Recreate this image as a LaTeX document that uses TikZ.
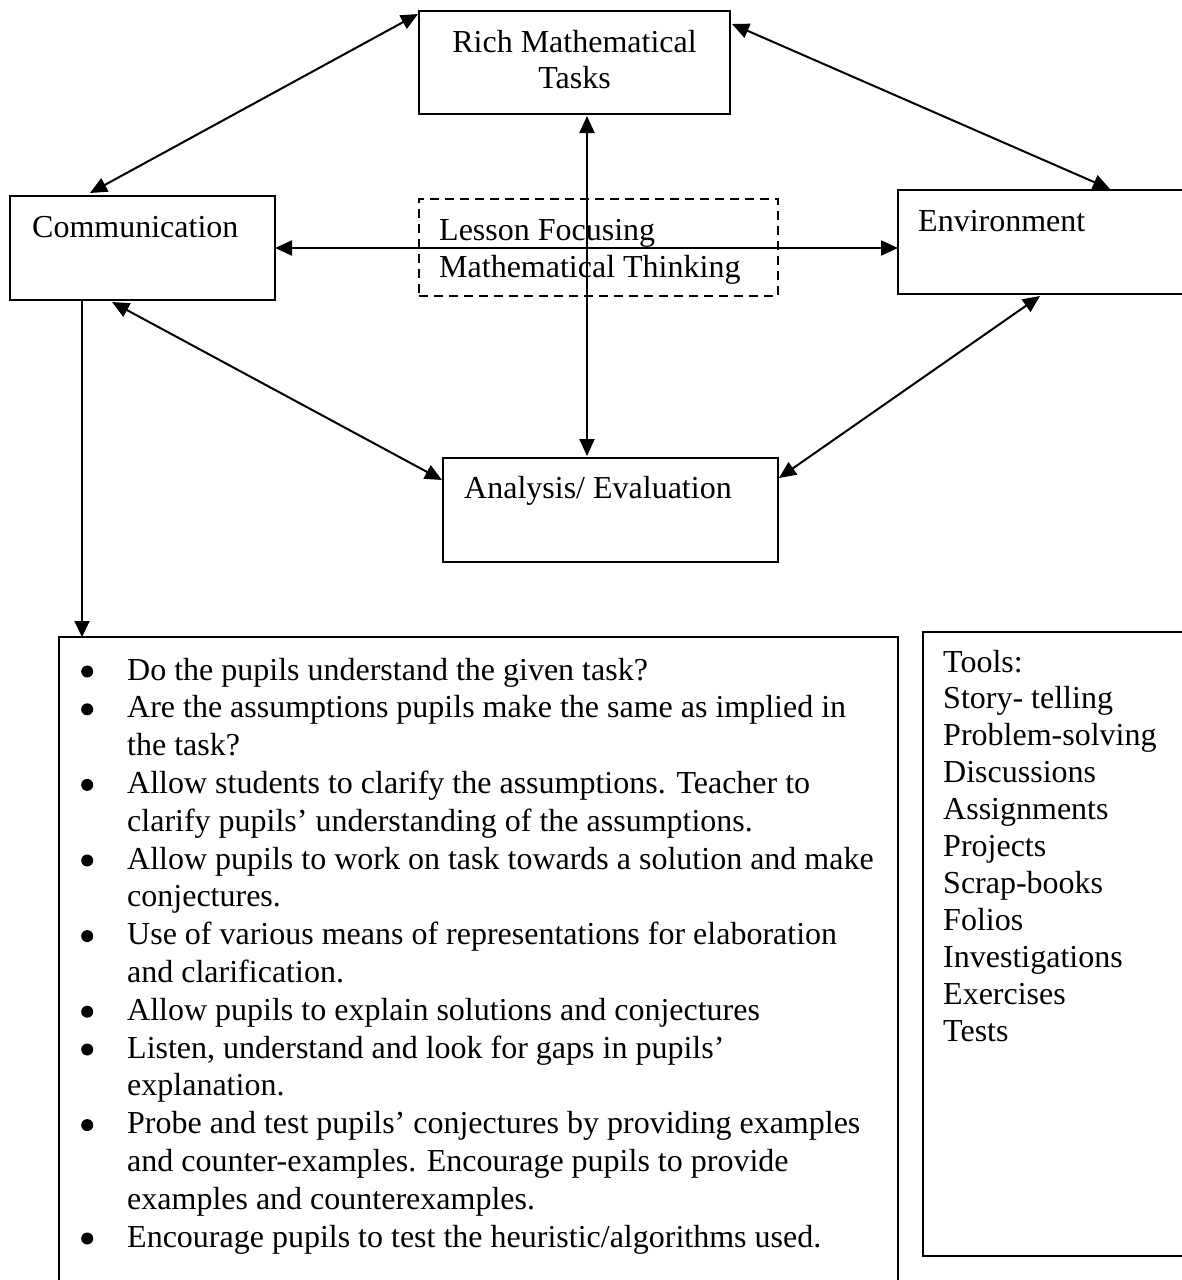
\documentclass[tikz,border=0pt]{standalone}
\usepackage{fontspec}
\setmainfont{Liberation Serif}
\usetikzlibrary{arrows.meta,calc}
\newcommand\bulletdot{\tikz[baseline=0pt]{\fill (0pt,8.5pt) circle[radius=6pt];}}
\begin{document}
\begin{tikzpicture}[x=1pt,y=-1pt,
  box/.style={draw,line width=2pt,rectangle,inner sep=0pt,outer sep=0pt,anchor=north west},
  thickbox/.style={box,line width=2.6pt},
  dbox/.style={draw,line width=1.8pt,dash pattern=on 9pt off 6pt,rectangle,inner sep=0pt,outer sep=0pt,anchor=north west},
  lbl/.style={anchor=base west,inner sep=0pt,font=\fontsize{32}{37}\selectfont},
  conn/.style={line width=2pt,{Triangle[length=17pt,width=15pt]}-{Triangle[length=17pt,width=15pt]}},
  oneway/.style={line width=2pt,-{Triangle[length=16pt,width=15pt]}},
]
\useasboundingbox (0,0) rectangle (1182,1280);
\clip (0,0) rectangle (1182,1280);
\fill[white] (0,0) rectangle (1182,1280);

% boxes
\node[box,minimum width=311pt,minimum height=103pt] (rich) at (419,11) {};
\node[box,minimum width=265pt,minimum height=104pt] (comm) at (10,196) {};
\node[dbox,minimum width=359pt,minimum height=97pt] (focus) at (419,199) {};
\node[box,minimum width=300pt,minimum height=104pt] (env) at (898,190) {};
\node[box,minimum width=335pt,minimum height=104pt] (ana) at (443,458) {};
\node[thickbox,minimum width=839pt,minimum height=700pt] (list) at (59,637) {};
\node[thickbox,minimum width=300pt,minimum height=624pt] (tools) at (923,632) {};

% texts (multi-line nodes: base = last line's baseline)
\node[lbl,anchor=base,align=center,font=\fontsize{32}{36}\selectfont] (richtxt) at (574.5,88) {Rich Mathematical\\Tasks};
\node[lbl] (commtxt) at (32,237) {Communication};
\node[lbl,align=left] (focustxt) at (439,277) {Lesson Focusing\\Mathematical Thinking};
\node[lbl] (envtxt) at (918,231) {Environment};
\node[lbl] (anatxt) at (464,498) {Analysis/ Evaluation};
\node[lbl,align=left,font=\fontsize{32}{36.9}\selectfont] (toolstxt) at (943,1041)
  {Tools:\\Story- telling\\Problem-solving\\Discussions\\Assignments\\Projects\\Scrap-books\\Folios\\Investigations\\Exercises\\Tests};
\node[lbl] (listtxt) at (67,680) {\fontsize{32}{37.8}\selectfont
  \begin{tabular}[t]{@{}l@{\hspace{20pt}}l@{}}
  \makebox[40pt]{\bulletdot} & Do the pupils understand the given task?\\
  \makebox[40pt]{\bulletdot} & Are the assumptions pupils make the same as implied in\\
   & the task?\\
  \makebox[40pt]{\bulletdot} & Allow students to clarify the assumptions. Teacher to\\
   & clarify pupils’ understanding of the assumptions.\\
  \makebox[40pt]{\bulletdot} & Allow pupils to work on task towards a solution and make\\
   & conjectures.\\
  \makebox[40pt]{\bulletdot} & Use of various means of representations for elaboration\\
   & and clarification.\\
  \makebox[40pt]{\bulletdot} & Allow pupils to explain solutions and conjectures\\
  \makebox[40pt]{\bulletdot} & Listen, understand and look for gaps in pupils’\\
   & explanation.\\
  \makebox[40pt]{\bulletdot} & Probe and test pupils’ conjectures by providing examples\\
   & and counter-examples. Encourage pupils to provide\\
   & examples and counterexamples.\\
  \makebox[40pt]{\bulletdot} & Encourage pupils to test the heuristic/algorithms used.
  \end{tabular}};

% connector end points
\coordinate (r1) at ($(rich.north west)+(-1,3)$);
\coordinate (c1) at ($(comm.north west)+(80,-3)$);
\coordinate (r2) at ($(rich.north east)+(2,13)$);
\coordinate (e2) at ($(env.north west)+(212,-1)$);
\coordinate (a4) at ($(ana.north west)+(144,-2)$);
\coordinate (r4) at ($(a4 |- rich.south)+(0,2)$);
\coordinate (c5) at ($(comm.south west)+(102,2)$);
\coordinate (a5) at ($(ana.north west)+(-1,22)$);
\coordinate (e6) at ($(env.south west)+(142,2)$);
\coordinate (a6) at ($(ana.north east)+(1,20)$);
\coordinate (c7) at ($(comm.south west)+(72,0)$);

% connectors
\draw[conn] (r1) -- (c1);
\draw[conn] (r2) -- (e2);
\draw[conn] (comm.east) -- (comm.east -| env.west);
\draw[conn] (r4) -- (a4);
\draw[conn] (c5) -- (a5);
\draw[conn] (e6) -- (a6);
\draw[oneway] (c7) -- (c7 |- list.north);
\end{tikzpicture}
\end{document}
